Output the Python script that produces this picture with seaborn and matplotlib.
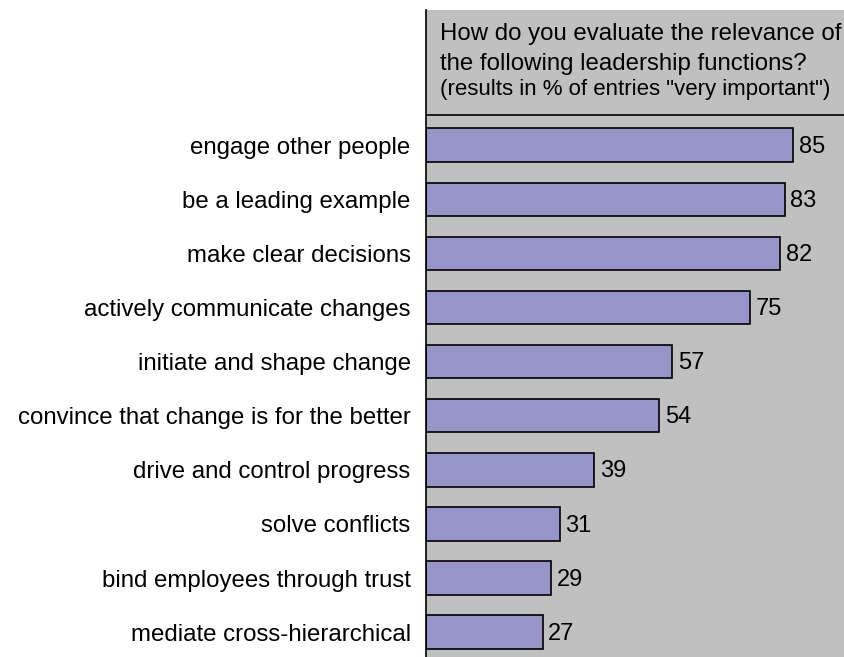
import matplotlib
matplotlib.use("Agg")
import matplotlib.pyplot as plt
import seaborn as sns
import pandas as pd

categories = [
    "engage other people",
    "be a leading example",
    "make clear decisions",
    "actively communicate changes",
    "initiate and shape change",
    "convince that change is for the better",
    "drive and control progress",
    "solve conflicts",
    "bind employees through trust",
    "mediate cross-hierarchical",
]
values = [85, 83, 82, 75, 57, 54, 39, 31, 29, 27]
title_lines = [
    "How do you evaluate the relevance of",
    "the following leadership functions?",
]
subtitle = '(results in % of entries "very important")'

sns.set_theme(style="white")
plt.rcParams["font.family"] = ["Liberation Sans", "DejaVu Sans"]

df = pd.DataFrame({"function": categories, "percent": values})

fig = plt.figure(figsize=(8.45, 6.57), dpi=100)
W, H = 845, 657
ax = fig.add_axes([426 / W, 0, (845 - 426) / W, (657 - 10) / H])
ax.set_facecolor("#C0C0C0")

sns.barplot(data=df, x="percent", y="function", ax=ax, color="#9694C8",
            saturation=1, width=0.62, edgecolor="black", linewidth=1.2)

ax.set_xlim(0, 97)
ax.set_ylim(9.46, -2.5)

for i, v in enumerate(values):
    ax.text(v + 1.3, i + 0.03, str(v), va="center", ha="left", fontsize=17, color="black")

# header block inside the plot area
ax.axhline(-0.555, color="black", lw=1.2)
ax.text(3.2, -2.06, title_lines[0], fontsize=17.3, va="center", ha="left", color="black")
ax.text(3.2, -1.50, title_lines[1], fontsize=17.3, va="center", ha="left", color="black")
ax.text(3.2, -1.03, subtitle, fontsize=16, va="center", ha="left", color="black")

ax.set_xlabel("")
ax.set_ylabel("")
ax.set_xticks([])
ax.tick_params(axis="y", length=0, pad=11, labelsize=17.3, labelcolor="black")
ax.set_yticks(range(len(categories)))
ax.set_yticklabels(categories)

for s in ["top", "right", "bottom"]:
    ax.spines[s].set_visible(False)
ax.spines["left"].set_color("black")
ax.spines["left"].set_linewidth(1.2)

fig.savefig("out.png", dpi=100, facecolor="white")
